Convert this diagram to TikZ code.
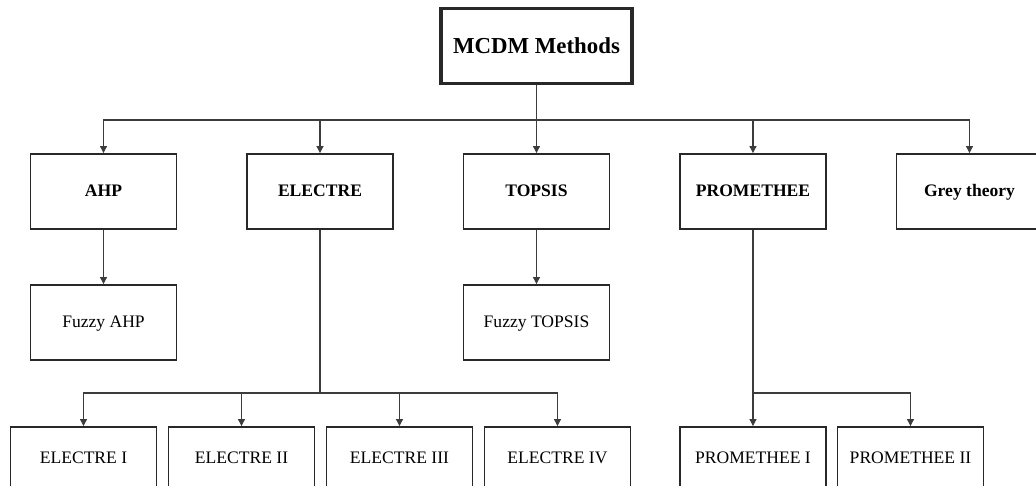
\documentclass[tikz,border=0pt]{standalone}
\usepackage{fontspec}
\setmainfont{Liberation Serif}
\usetikzlibrary{arrows.meta,positioning,calc}
\definecolor{EdgeGray}{RGB}{60,60,60}
\definecolor{BoxGray}{RGB}{40,40,40}

\begin{document}
\begin{tikzpicture}[
  x=0.02cm, y=-0.02cm,
  method/.style={draw=BoxGray, line width=1.1pt, minimum width=2.92cm, minimum height=1.5cm, inner sep=0pt, text height=7pt, text depth=1pt, font=\bfseries\fontsize{10}{12}\selectfont},
  variant/.style={method, font=\fontsize{10}{12}\selectfont},
  leaf/.style={variant, minimum height=1.24cm},
  root/.style={method, line width=1.8pt, minimum width=3.82cm, text height=9pt, font=\bfseries\fontsize{13}{15}\selectfont},
  arr/.style={-{Triangle[length=4pt,width=4pt]}, line width=0.6pt, EdgeGray},
  link/.style={line width=0.6pt, EdgeGray}
]
  \useasboundingbox (0,0) rectangle (1036,485);

  % top level
  \node[root] (mcdm) at (536.5,46) {MCDM Methods};

  % main methods
  \node[method] (ahp)   at (103.5,191.5) {AHP};
  \node[method] (elec)  at (320,191.5)   {ELECTRE};
  \node[method] (top)   at (536.5,191.5) {TOPSIS};
  \node[method] (prom)  at (753,191.5)   {PROMETHEE};
  \node[method] (grey)  at (969.5,191.5) {Grey theory};

  % fuzzy extensions
  \node[variant] (fahp) at (103.5,322.5) {Fuzzy AHP};
  \node[variant] (ftop) at (536.5,322.5) {Fuzzy TOPSIS};

  % family members
  \node[leaf] (e1) at (83.5,458)  {ELECTRE I};
  \node[leaf] (e2) at (241.5,458) {ELECTRE II};
  \node[leaf] (e3) at (399.5,458) {ELECTRE III};
  \node[leaf] (e4) at (557.5,458) {ELECTRE IV};
  \node[leaf] (p1) at (753,458)   {PROMETHEE I};
  \node[leaf] (p2) at (910.5,458) {PROMETHEE II};

  \coordinate (bus) at (536.5,120);
  \coordinate (ebus) at (320,393);
  \coordinate (pbus) at (753,393);

  \draw[link] (mcdm.south) -- (bus);
  \foreach \m in {ahp,elec,top,prom,grey}
    \draw[arr] (bus) -| (\m.north);

  \draw[arr] (ahp) -- (fahp);
  \draw[arr] (top) -- (ftop);

  \draw[link] (elec.south) -- (ebus);
  \foreach \m in {e1,e2,e3,e4}
    \draw[arr] (ebus) -| (\m.north);

  \draw[link] (prom.south) -- (pbus);
  \foreach \m in {p1,p2}
    \draw[arr] (pbus) -| (\m.north);
\end{tikzpicture}
\end{document}
